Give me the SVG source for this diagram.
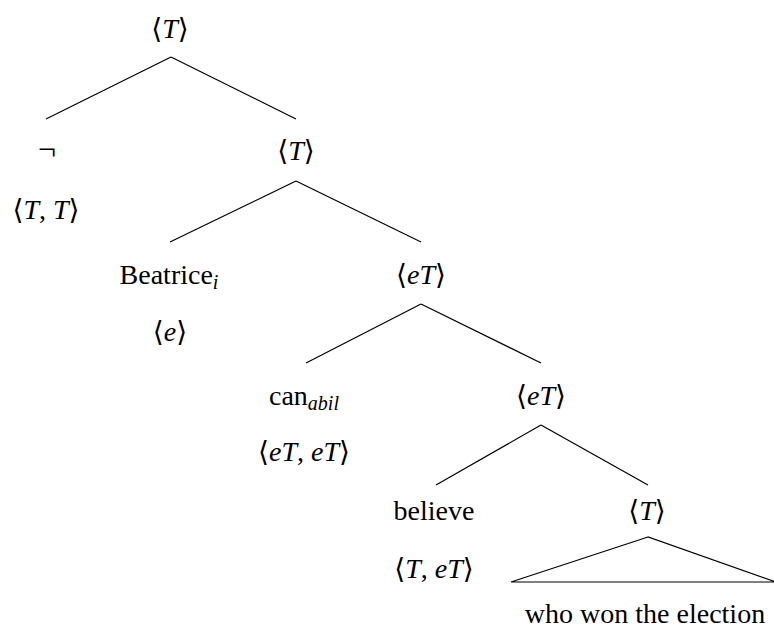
<svg xmlns="http://www.w3.org/2000/svg" width="774" height="634" viewBox="0 0 774 634">
<style>
text{font-family:"Liberation Serif","DejaVu Serif",serif;font-size:28px;fill:#000;text-anchor:middle}
.m{font-style:italic}
.sub{font-size:20px;font-style:italic}
.neg{font-size:32px}
#edges line,#edges polygon{stroke:#000;stroke-width:1.2;fill:none}
</style>
<rect width="774" height="634" fill="#fff"/>
<g id="edges">
<line x1="171" y1="57" x2="46" y2="119"/>
<line x1="171" y1="57" x2="296" y2="119"/>
<line x1="296" y1="181" x2="170" y2="242"/>
<line x1="296" y1="181" x2="421" y2="242"/>
<line x1="421" y1="304" x2="306" y2="363"/>
<line x1="421" y1="304" x2="541" y2="363"/>
<line x1="541" y1="425" x2="436" y2="485"/>
<line x1="541" y1="425" x2="648" y2="485"/>
<polygon points="648,537 511,582 776,582"/>
</g>
<g id="n-root"><text x="170" y="38">⟨<tspan class="m">T</tspan>⟩</text></g>
<g id="n-neg"><text class="neg" x="47" y="160">¬</text><text x="46" y="219">⟨<tspan class="m">T</tspan>, <tspan class="m">T</tspan>⟩</text></g>
<g id="n-T2"><text x="296" y="160">⟨<tspan class="m">T</tspan>⟩</text></g>
<g id="n-beatrice"><text x="169" y="284">Beatrice<tspan class="sub" dy="5">i</tspan></text><text x="170" y="341">⟨<tspan class="m">e</tspan>⟩</text></g>
<g id="n-eT1"><text x="421" y="284">⟨<tspan class="m">eT</tspan>⟩</text></g>
<g id="n-can"><text x="304" y="405">can<tspan class="sub" dy="5">abil</tspan></text><text x="304" y="461">⟨<tspan class="m">eT</tspan>, <tspan class="m">eT</tspan>⟩</text></g>
<g id="n-eT2"><text x="541" y="405">⟨<tspan class="m">eT</tspan>⟩</text></g>
<g id="n-believe"><text x="434" y="520">believe</text><text x="434" y="578">⟨<tspan class="m">T</tspan>, <tspan class="m">eT</tspan>⟩</text></g>
<g id="n-T3"><text x="647" y="520">⟨<tspan class="m">T</tspan>⟩</text></g>
<g id="n-who"><text x="645" y="623">who won the election</text></g>
</svg>
